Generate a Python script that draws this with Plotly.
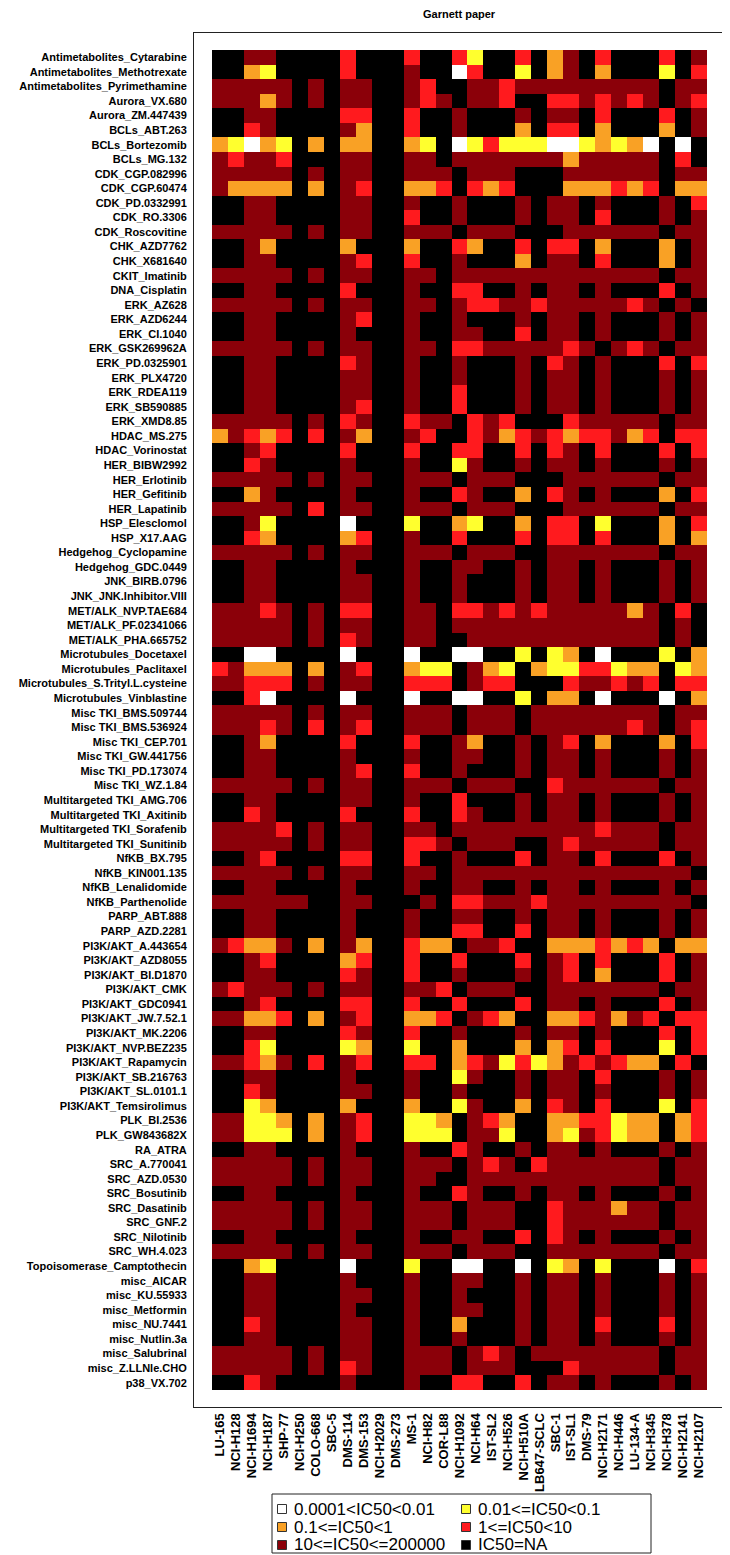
import plotly.graph_objects as go

cell_lines = ["LU-165", "NCI-H128", "NCI-H1694", "NCI-H187", "SHP-77", "NCI-H250", "COLO-668",
              "SBC-5", "DMS-114", "DMS-153", "NCI-H2029", "DMS-273", "MS-1", "NCI-H82", "COR-L88",
              "NCI-H1092", "NCI-H64", "IST-SL2", "NCI-H526", "NCI-H510A", "LB647-SCLC", "SBC-1",
              "IST-SL1", "DMS-79", "NCI-H2171", "NCI-H446", "LU-134-A", "NCI-H345", "NCI-H378",
              "NCI-H2141", "NCI-H2107"]

drugs = ["Antimetabolites_Cytarabine", "Antimetabolites_Methotrexate", "Antimetabolites_Pyrimethamine",
         "Aurora_VX.680", "Aurora_ZM.447439", "BCLs_ABT.263", "BCLs_Bortezomib", "BCLs_MG.132",
         "CDK_CGP.082996", "CDK_CGP.60474", "CDK_PD.0332991", "CDK_RO.3306", "CDK_Roscovitine",
         "CHK_AZD7762", "CHK_X681640", "CKIT_Imatinib", "DNA_Cisplatin", "ERK_AZ628", "ERK_AZD6244",
         "ERK_CI.1040", "ERK_GSK269962A", "ERK_PD.0325901", "ERK_PLX4720", "ERK_RDEA119",
         "ERK_SB590885", "ERK_XMD8.85", "HDAC_MS.275", "HDAC_Vorinostat", "HER_BIBW2992",
         "HER_Erlotinib", "HER_Gefitinib", "HER_Lapatinib", "HSP_Elesclomol", "HSP_X17.AAG",
         "Hedgehog_Cyclopamine", "Hedgehog_GDC.0449", "JNK_BIRB.0796", "JNK_JNK.Inhibitor.VIII",
         "MET/ALK_NVP.TAE684", "MET/ALK_PF.02341066", "MET/ALK_PHA.665752", "Microtubules_Docetaxel",
         "Microtubules_Paclitaxel", "Microtubules_S.Trityl.L.cysteine", "Microtubules_Vinblastine",
         "Misc TKI_BMS.509744", "Misc TKI_BMS.536924", "Misc TKI_CEP.701", "Misc TKI_GW.441756",
         "Misc TKI_PD.173074", "Misc TKI_WZ.1.84", "Multitargeted TKI_AMG.706",
         "Multitargeted TKI_Axitinib", "Multitargeted TKI_Sorafenib", "Multitargeted TKI_Sunitinib",
         "NfKB_BX.795", "NfKB_KIN001.135", "NfKB_Lenalidomide", "NfKB_Parthenolide", "PARP_ABT.888",
         "PARP_AZD.2281", "PI3K/AKT_A.443654", "PI3K/AKT_AZD8055", "PI3K/AKT_BI.D1870", "PI3K/AKT_CMK",
         "PI3K/AKT_GDC0941", "PI3K/AKT_JW.7.52.1", "PI3K/AKT_MK.2206", "PI3K/AKT_NVP.BEZ235",
         "PI3K/AKT_Rapamycin", "PI3K/AKT_SB.216763", "PI3K/AKT_SL.0101.1", "PI3K/AKT_Temsirolimus",
         "PLK_BI.2536", "PLK_GW843682X", "RA_ATRA", "SRC_A.770041", "SRC_AZD.0530", "SRC_Bosutinib",
         "SRC_Dasatinib", "SRC_GNF.2", "SRC_Nilotinib", "SRC_WH.4.023", "Topoisomerase_Camptothecin",
         "misc_AICAR", "misc_KU.55933", "misc_Metformin", "misc_NU.7441", "misc_Nutlin.3a",
         "misc_Salubrinal", "misc_Z.LLNle.CHO", "p38_VX.702"]

# IC50 class per drug (row) and cell line (column):
# W=0.0001<IC50<0.01, Y=0.01<=IC50<0.1, O=0.1<=IC50<1, R=1<=IC50<10, D=10<=IC50<=200000, K=NA
ic50_class_rows = [
    "KKDDKKKKRKKKRKKRYKKRKODKRKKKRKD",
    "KKOYKKKKRKKKDKKWRKKYKODKOKKKYKR",
    "DDDDDKDKDDKKDRKKDDRDDDDDDDDDKDD",
    "DDDODKDKDDKKDRDKDDRKKRRDRDRDKDR",
    "KKDDKKKKRRKKRKKDKKKDKDDKRKKKRKD",
    "KKRDKKKKDOKKRKKDKKKOKRRKOKKKOKD",
    "OYWOYKOKOOKKOYKWYRYYYWWYOYOWKWK",
    "DRDDRKKKDDKKDDKDDDDDDDODDDDDKRK",
    "DDDDDKDKDDKKDDDKDDDKKKDDDDDDKDD",
    "DOOOOKOKDRKKOORKRORKKKOOORORKOO",
    "KKDDKKKKDDKKDKKDKKKDKDDKDKKKDKR",
    "KKDDKKKKDDKKRKKDKKKDKDDKRKKKDKD",
    "DDDDDKDKDDKKDDDKDDDKKKDDDDDDKDD",
    "KKDOKKKKOKKKOKKROKKRKRRKOKKKOKD",
    "KKDDKKKKDRKKRKKDKKKOKDDKRKKKOKD",
    "DDDDDKDKDDKKDDKDDDDDDDDDDDDDKDD",
    "KKDDKKKKRKKKDKKRRKKDKDDKDKKKRKD",
    "DDDDDKDKDDKKDDKDRRDDRDDDDDRDKDK",
    "KKDDKKKKDRKKDKKDKKKDKDDKDKKKDKD",
    "KKDDKKKKDKKKDKKDDKKRKDDKDKKKDKD",
    "DDDDDKDKDDKKDDKRRDDDDDRDKDRDKDD",
    "KKDDKKKKRDKKDKKDKKKDKRDKDKKKRKR",
    "KKDDKKKKDDKKDKKDKKKDKDDKDKKKDKD",
    "KKDDKKKKDDKKDKKRKKKDKDDKDKKKDKD",
    "KKDDKKKKDRKKDKKRKKKDKDDKDKKKDKD",
    "DDDDDKDKRDKKRDDKRDRKKKRDDDDDKDD",
    "ODRORKRKDOKKDRKKRDORDRORRDORKRR",
    "KKDRKKKKRKKKRKKRRKKRKRDKRKKKRKR",
    "KKRDKKKKDKKKDKKYDKKDKDDKDKKKDKD",
    "DDDDDKDKDDKKDDDKDDDKKKDDDDDDKDD",
    "KKODKKKKDKKKDKKRDKKOKRDKDKKKOKR",
    "DDDDDKRKDDKKDDDKDDDKKKDDDDDDKDD",
    "KKDYKKKKWKKKYKKOYKKOKRRKYKKKOKR",
    "KKROKKKKORKKDKKRKKKRKRRKRKKKOKO",
    "DDDDDKDKDDKKDDDKDDDKKDDDDDDDKDD",
    "KKDDKKKKDKKKDKKDDKKDKDDKDKKKDKD",
    "KKDDKKKKDDKKDKKDKKKDKDDKDKKKDKD",
    "KKDDKKKKDDKKDKKDKKKDKDDKDKKKDKD",
    "DDDRDKDKRRKKDDKRRDRDRDDDDDODKRK",
    "DDDDDKDKDDKKDDKDDDDDDDDDDDDDKDK",
    "DDDDDKDKRDKKDDKKDDDDDDDDDDDDKDK",
    "KKWWKKKKWKKKWKKWWKKYKYOKWKKKYKO",
    "RDOOOKOKDRKKOYYKDOYKOYYRRYOOKYO",
    "DDRRRKDKDDKKRRRKDRRKKKRDDRDRKRR",
    "KKRWKKKKWKKKWKKWWKKYKOOKWKKKWKO",
    "DDDDDKDKDDKKDDDKDDDKDDDDDDDDKDD",
    "DDDRDKRKDRKKDDDKDDDKDDDDDDRDKDR",
    "KKDOKKKKRKKKRKKDOKKDKDRKOKKKOKR",
    "KKDDKKKKDKKKDKKDDKKDKDDKDKKKDKD",
    "KKDDKKKKDRKKRKKDKKKDKDDKDKKKDKD",
    "DDDDDKDKDDKKDDDKDDDKKRDDDDDDKDD",
    "KKDDKKKKDDKKDKKRKKKDKDDKDKKKDKD",
    "KKRDKKKKRKKKRKKRDKKDKDDKDKKKDKD",
    "DDDDRKDKDDKKDDKDDDDDDDDDRDDDKDD",
    "DDDDDKDKDDKKRRDKDDDKKDRDDDDDKDD",
    "KKDRKKKKRRKKRKKDKKKRKDDKRKKKRKD",
    "DDDDDKDKDDKKDDKDDDDDDDDDDDDDDDK",
    "KKDDKKKKDKKKDKKDDKKDKDDKDKKKDKD",
    "DDDDDDKKDDKKKDKRRDDDRDDDDDDDDDK",
    "KKDDKKKKDKKKDKKDDKKDKDDKDKKKDKD",
    "KKDDKKKKDKKKDKKRRKKRKDDKDKKKDKD",
    "DROODKOKDOKKROOKDDRKKOOOROROKOO",
    "KKDRKKKKORKKRKKRKKKRKDRKRKKKRKD",
    "KKDDKKKKRDKKRKKDKKKDKDRKOKKKRKD",
    "DRDDDKDKDDKKDDRKDDDKKDDDDDDDKDD",
    "KKDRKKKKRRKKRKKRKKKRKDDKDKKKRKD",
    "DDOORKOKDRKKOORKDROKKOORDODRKRR",
    "KKDDKKKKRDKKRKKDKKKDKDDKDKKKRKR",
    "KKRYKKKKYOKKYKKOKKKOKORKRKKKYKR",
    "DDRODKRKDRKKRRKORDYRYODRDROOKRK",
    "KKDDKKKKDKKKDKKYDKKDKDDKRKKKDKD",
    "KKRDKKKKDDKKDKKDKKKDKDDKDKKKDKD",
    "KKYOKKKKOKKKOKKYDKKOKRDKRKKKYKR",
    "DDYYOKOKDRKKYYOKDROKKOORRYOOKOR",
    "DDYYYKOKDRKKYYYKDDYKKOYDRYOOKOR",
    "KKDDKKKKDKKKDKKRDKKDKDDKDKKKDKD",
    "DDDDDKDKDDKKDDDKDRDKRDDDDDDDKDD",
    "DDDDDKDKDDKKDDKKDDDDDDDDDDDDKDD",
    "KKDDKKKKDKKKDKKRDKKDKDDKDKKKDKD",
    "DDDDDKDKDDKKDDDKDDDKKRDDDODDKDD",
    "DDDDDKDKDDKKDDDKDDDKKRDDDDDDKDD",
    "KKDDKKKKDKKKDKKDDKKRKRDKDKKKDKD",
    "DDDDDKDKDDKKDDDKDDDKKDDDDDDDKDD",
    "KKOYKKKKWKKKYKKWWKKWKYOKYKKKWKR",
    "KKDDKKKKDKKKDKKDDKKDKDDKDKKKDKD",
    "KKDDKKKKDDKKDKKDKKKDKDDKDKKKDKD",
    "KKDDKKKKDKKKDKKDDKKDKDDKDKKKDKD",
    "KKRDKKKKDDKKDKKOKKKDKDDKRKKKRKD",
    "KKDDKKKKDDKKDKKDKKKDKDDKDKKKDKD",
    "DDDDDKDKDDKKDDDKDRDKDDDDDDDDKDD",
    "DDDDDKDKRDKKDDDKDDDKKKRDDDDDKDD",
    "KKRDKKKKDKKKDKKRRKKRKDDKDKKKDKD",
]

class_codes = ["W", "Y", "O", "R", "D", "K"]
class_labels = ["0.0001<IC50<0.01", "0.01<=IC50<0.1", "0.1<=IC50<1",
                "1<=IC50<10", "10<=IC50<=200000", "IC50=NA"]
class_colors = ["#FFFFFF", "#FFFF2E", "#F9A125", "#FF1A1E", "#8B0009", "#000000"]

# ---- build matrix ----
z = []
for row in ic50_class_rows:
    r = [class_codes.index(ch) for ch in row[:len(cell_lines)]]
    r += [5] * (len(cell_lines) - len(r))
    z.append(r)

n = len(class_codes)
colorscale = []
for i, c in enumerate(class_colors):
    colorscale.append([i / n, c])
    colorscale.append([(i + 1) / n, c])

# the page body has an 8px margin: work in page pixels, convert to figure pixels
OFF = 8
PAGE_W, PAGE_H = 730, 1555
W, H = PAGE_W - OFF, PAGE_H - OFF
L, R, T, B = 194 - OFF, 724 - OFF, 33 - OFF, 1407 - OFF  # plot box (figure px)
ncol, nrow = len(cell_lines), len(drugs)
hx0, hx1, hy0, hy1 = 212 - OFF, 707 - OFF, 50 - OFF, 1390 - OFF  # heatmap extents
cw = (hx1 - hx0) / ncol
rh = (hy1 - hy0) / nrow
xr = [-0.5 - (hx0 - L) / cw, ncol - 0.5 + (R - hx1) / cw]
yr = [nrow - 0.5 + (B - hy1) / rh, -0.5 - (hy0 - T) / rh]

fig = go.Figure(go.Heatmap(
    z=z, x=list(range(ncol)), y=list(range(nrow)),
    zmin=-0.5, zmax=n - 0.5,
    colorscale=[[p, c] for p, c in colorscale],
    showscale=False, hoverinfo="skip",
))

font = "Liberation Sans, Arial, sans-serif"
fig.update_xaxes(range=xr, tickvals=list(range(ncol)), ticktext=cell_lines, tickangle=-90,
                 showgrid=False, zeroline=False, ticks="", showline=True, mirror=True,
                 linecolor="#222222", linewidth=1,
                 tickfont=dict(family=font, size=13, color="black", weight="bold"))
fig.update_yaxes(range=yr, tickvals=list(range(nrow)), ticktext=drugs,
                 showgrid=False, zeroline=False, ticks="", showline=True, mirror=True,
                 linecolor="#222222", linewidth=1, ticklabelstandoff=4,
                 tickfont=dict(family=font, size=11, color="black", weight="bold"))


def px(X):  # page x -> paper
    return (X - OFF - L) / (R - L)


def py(Y):  # page y -> paper
    return (B - (Y - OFF)) / (B - T)


shapes = []
annotations = []
# legend box
shapes.append(dict(type="rect", xref="paper", yref="paper",
                   x0=px(272), x1=px(651), y0=py(1553), y1=py(1494),
                   line=dict(color="#222222", width=1), fillcolor="white"))
col_x = [282, 466]
row_y = [1509, 1527, 1545]
for i, (lab, colr) in enumerate(zip(class_labels, class_colors)):
    cx = col_x[i % 2]
    cy = row_y[i // 2]
    s = 4.5
    shapes.append(dict(type="rect", xref="paper", yref="paper",
                       x0=px(cx - s), x1=px(cx + s), y0=py(cy + s), y1=py(cy - s),
                       line=dict(color="#333333", width=1), fillcolor=colr))
    annotations.append(dict(xref="paper", yref="paper", x=px(cx + 10), y=py(cy),
                            text=lab, showarrow=False, xanchor="left", yanchor="middle",
                            font=dict(family=font, size=17, color="black")))

annotations.append(dict(xref="paper", yref="paper", x=0.5, y=py(14), text="Garnett paper",
                        showarrow=False, xanchor="center", yanchor="middle",
                        font=dict(family=font, size=11, color="black", weight="bold")))

fig.update_layout(width=W, height=H, margin=dict(l=L, r=W - R, t=T, b=H - B),
                  paper_bgcolor="white", plot_bgcolor="white",
                  shapes=shapes, annotations=annotations, showlegend=False)

fig.write_html("out.html")
